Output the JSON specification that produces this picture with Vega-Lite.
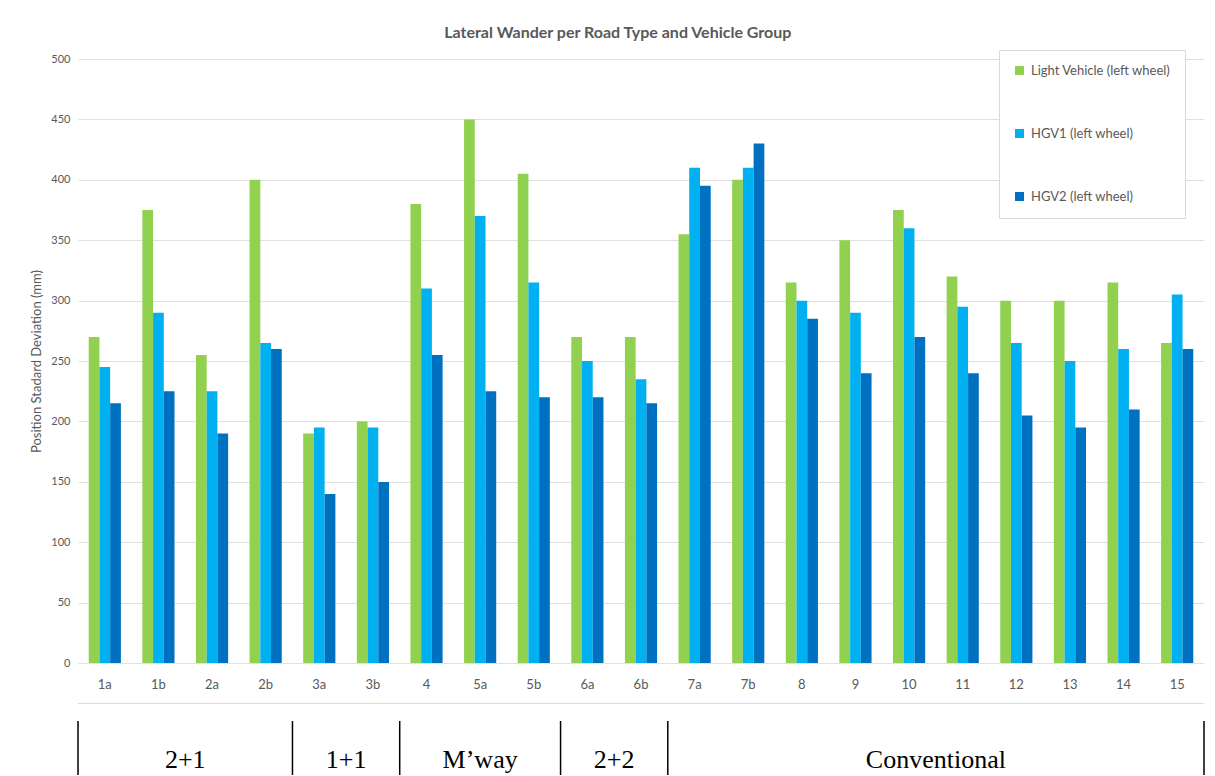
{
  "$schema": "https://vega.github.io/schema/vega-lite/v6.json",
  "width": 1215,
  "height": 776,
  "autosize": {"type": "fit", "contains": "padding"},
  "padding": {"left": 30, "right": 10, "top": 25, "bottom": 0},
  "background": "white",
  "config": {
    "view": {"stroke": null},
    "font": "Lato"
  },
  "title": {
    "text": "Lateral Wander per Road Type and Vehicle Group",
    "fontSize": 16,
    "fontWeight": "bold",
    "color": "#595959",
    "font": "Lato",
    "anchor": "middle",
    "frame": "bounds",
    "offset": 12
  },
  "datasets": {
    "bars": [
      {"cat": "1a", "series": "Light Vehicle (left wheel)", "value": 270},
      {"cat": "1a", "series": "HGV1 (left wheel)", "value": 245},
      {"cat": "1a", "series": "HGV2 (left wheel)", "value": 215},
      {"cat": "1b", "series": "Light Vehicle (left wheel)", "value": 375},
      {"cat": "1b", "series": "HGV1 (left wheel)", "value": 290},
      {"cat": "1b", "series": "HGV2 (left wheel)", "value": 225},
      {"cat": "2a", "series": "Light Vehicle (left wheel)", "value": 255},
      {"cat": "2a", "series": "HGV1 (left wheel)", "value": 225},
      {"cat": "2a", "series": "HGV2 (left wheel)", "value": 190},
      {"cat": "2b", "series": "Light Vehicle (left wheel)", "value": 400},
      {"cat": "2b", "series": "HGV1 (left wheel)", "value": 265},
      {"cat": "2b", "series": "HGV2 (left wheel)", "value": 260},
      {"cat": "3a", "series": "Light Vehicle (left wheel)", "value": 190},
      {"cat": "3a", "series": "HGV1 (left wheel)", "value": 195},
      {"cat": "3a", "series": "HGV2 (left wheel)", "value": 140},
      {"cat": "3b", "series": "Light Vehicle (left wheel)", "value": 200},
      {"cat": "3b", "series": "HGV1 (left wheel)", "value": 195},
      {"cat": "3b", "series": "HGV2 (left wheel)", "value": 150},
      {"cat": "4", "series": "Light Vehicle (left wheel)", "value": 380},
      {"cat": "4", "series": "HGV1 (left wheel)", "value": 310},
      {"cat": "4", "series": "HGV2 (left wheel)", "value": 255},
      {"cat": "5a", "series": "Light Vehicle (left wheel)", "value": 450},
      {"cat": "5a", "series": "HGV1 (left wheel)", "value": 370},
      {"cat": "5a", "series": "HGV2 (left wheel)", "value": 225},
      {"cat": "5b", "series": "Light Vehicle (left wheel)", "value": 405},
      {"cat": "5b", "series": "HGV1 (left wheel)", "value": 315},
      {"cat": "5b", "series": "HGV2 (left wheel)", "value": 220},
      {"cat": "6a", "series": "Light Vehicle (left wheel)", "value": 270},
      {"cat": "6a", "series": "HGV1 (left wheel)", "value": 250},
      {"cat": "6a", "series": "HGV2 (left wheel)", "value": 220},
      {"cat": "6b", "series": "Light Vehicle (left wheel)", "value": 270},
      {"cat": "6b", "series": "HGV1 (left wheel)", "value": 235},
      {"cat": "6b", "series": "HGV2 (left wheel)", "value": 215},
      {"cat": "7a", "series": "Light Vehicle (left wheel)", "value": 355},
      {"cat": "7a", "series": "HGV1 (left wheel)", "value": 410},
      {"cat": "7a", "series": "HGV2 (left wheel)", "value": 395},
      {"cat": "7b", "series": "Light Vehicle (left wheel)", "value": 400},
      {"cat": "7b", "series": "HGV1 (left wheel)", "value": 410},
      {"cat": "7b", "series": "HGV2 (left wheel)", "value": 430},
      {"cat": "8", "series": "Light Vehicle (left wheel)", "value": 315},
      {"cat": "8", "series": "HGV1 (left wheel)", "value": 300},
      {"cat": "8", "series": "HGV2 (left wheel)", "value": 285},
      {"cat": "9", "series": "Light Vehicle (left wheel)", "value": 350},
      {"cat": "9", "series": "HGV1 (left wheel)", "value": 290},
      {"cat": "9", "series": "HGV2 (left wheel)", "value": 240},
      {"cat": "10", "series": "Light Vehicle (left wheel)", "value": 375},
      {"cat": "10", "series": "HGV1 (left wheel)", "value": 360},
      {"cat": "10", "series": "HGV2 (left wheel)", "value": 270},
      {"cat": "11", "series": "Light Vehicle (left wheel)", "value": 320},
      {"cat": "11", "series": "HGV1 (left wheel)", "value": 295},
      {"cat": "11", "series": "HGV2 (left wheel)", "value": 240},
      {"cat": "12", "series": "Light Vehicle (left wheel)", "value": 300},
      {"cat": "12", "series": "HGV1 (left wheel)", "value": 265},
      {"cat": "12", "series": "HGV2 (left wheel)", "value": 205},
      {"cat": "13", "series": "Light Vehicle (left wheel)", "value": 300},
      {"cat": "13", "series": "HGV1 (left wheel)", "value": 250},
      {"cat": "13", "series": "HGV2 (left wheel)", "value": 195},
      {"cat": "14", "series": "Light Vehicle (left wheel)", "value": 315},
      {"cat": "14", "series": "HGV1 (left wheel)", "value": 260},
      {"cat": "14", "series": "HGV2 (left wheel)", "value": 210},
      {"cat": "15", "series": "Light Vehicle (left wheel)", "value": 265},
      {"cat": "15", "series": "HGV1 (left wheel)", "value": 305},
      {"cat": "15", "series": "HGV2 (left wheel)", "value": 260}
    ],
    "cats": [
      {"cat": "1a"}, {"cat": "1b"}, {"cat": "2a"}, {"cat": "2b"}, {"cat": "3a"}, {"cat": "3b"}, {"cat": "4"},
      {"cat": "5a"}, {"cat": "5b"}, {"cat": "6a"}, {"cat": "6b"}, {"cat": "7a"}, {"cat": "7b"}, {"cat": "8"},
      {"cat": "9"}, {"cat": "10"}, {"cat": "11"}, {"cat": "12"}, {"cat": "13"}, {"cat": "14"}, {"cat": "15"}
    ],
    "groupsBoundary": [
      {"cat": "1b", "label": "2+1"},
      {"cat": "3a", "label": "1+1"},
      {"cat": "6a", "label": "2+2"},
      {"cat": "10", "label": "Conventional"}
    ],
    "groupsCenter": [
      {"cat": "5a", "label": "M’way"}
    ],
    "dividersRight": [
      {"cat": "2b"}, {"cat": "3b"}, {"cat": "5b"}, {"cat": "6b"}, {"cat": "15"}
    ],
    "dividersLeft": [
      {"cat": "1a"}
    ]
  },
  "layer": [
    {
      "data": {"name": "bars"},
      "mark": {"type": "bar"},
      "encoding": {
        "x": {
          "field": "cat", "type": "nominal",
          "scale": {"domain": ["1a","1b","2a","2b","3a","3b","4","5a","5b","6a","6b","7a","7b","8","9","10","11","12","13","14","15"], "paddingInner": 0.4, "paddingOuter": 0.2},
          "axis": null
        },
        "xOffset": {
          "field": "series", "type": "nominal",
          "scale": {"domain": ["Light Vehicle (left wheel)", "HGV1 (left wheel)", "HGV2 (left wheel)"], "paddingInner": 0, "paddingOuter": 0}
        },
        "y": {
          "field": "value", "type": "quantitative",
          "scale": {"domain": [-92.6, 500], "nice": false, "zero": false},
          "axis": {
            "values": [0, 50, 100, 150, 200, 250, 300, 350, 400, 450, 500],
            "grid": true,
            "gridColor": "#e0e0e0",
            "domain": false,
            "ticks": false,
            "labelPadding": 8,
            "labelFont": "Lato",
            "labelFontSize": 11,
            "labelColor": "#595959",
            "title": "Position Stadard Deviation (mm)",
            "titleFont": "Lato",
            "titleFontSize": 13,
            "titleFontWeight": "normal",
            "titleColor": "#595959",
            "titlePadding": 7,
            "titleY": 302
          }
        },
        "color": {
          "field": "series", "type": "nominal",
          "scale": {"domain": ["Light Vehicle (left wheel)", "HGV1 (left wheel)", "HGV2 (left wheel)"], "range": ["#92D050", "#00B0F0", "#0070C0"]},
          "legend": {
            "title": null,
            "orient": "none",
            "legendX": 921,
            "legendY": -9,
            "symbolType": "square",
            "symbolSize": 81,
            "symbolStrokeWidth": 0,
            "labelFont": "Lato",
            "labelFontSize": 13,
            "labelColor": "#595959",
            "labelOffset": 5,
            "labelLimit": 300,
            "rowPadding": 49,
            "padding": 14,
            "strokeColor": "#d9d9d9",
            "fillColor": "white"
          }
        }
      }
    },
    {
      "data": {"name": "cats"},
      "mark": {"type": "text", "font": "Lato", "fontSize": 13, "color": "#595959", "baseline": "middle", "align": "center"},
      "encoding": {
        "x": {"field": "cat", "type": "nominal", "bandPosition": 0.5},
        "y": {"datum": -18, "type": "quantitative"},
        "text": {"field": "cat"}
      }
    },
    {
      "data": {"name": "cats"},
      "transform": [{"filter": "datum.cat === '1a'"}],
      "mark": {"type": "rule", "color": "#d9d9d9", "strokeWidth": 1},
      "encoding": {
        "y": {"datum": -33.5, "type": "quantitative"}
      }
    },
    {
      "data": {"name": "dividersRight"},
      "mark": {"type": "rule", "color": "black", "strokeWidth": 1.5},
      "encoding": {
        "x": {"field": "cat", "type": "nominal", "bandPosition": 1.333},
        "y": {"datum": -47.9, "type": "quantitative"},
        "y2": {"datum": -92.6}
      }
    },
    {
      "data": {"name": "dividersLeft"},
      "mark": {"type": "rule", "color": "black", "strokeWidth": 1.5},
      "encoding": {
        "x": {"field": "cat", "type": "nominal", "bandPosition": -0.333},
        "y": {"datum": -47.9, "type": "quantitative"},
        "y2": {"datum": -92.6}
      }
    },
    {
      "data": {"name": "groupsBoundary"},
      "mark": {"type": "text", "font": "Liberation Serif", "fontSize": 26, "color": "black", "baseline": "alphabetic", "align": "center"},
      "encoding": {
        "x": {"field": "cat", "type": "nominal", "bandPosition": 1.333},
        "y": {"datum": -87.2, "type": "quantitative"},
        "text": {"field": "label"}
      }
    },
    {
      "data": {"name": "groupsCenter"},
      "mark": {"type": "text", "font": "Liberation Serif", "fontSize": 26, "color": "black", "baseline": "alphabetic", "align": "center"},
      "encoding": {
        "x": {"field": "cat", "type": "nominal", "bandPosition": 0.5},
        "y": {"datum": -87.2, "type": "quantitative"},
        "text": {"field": "label"}
      }
    }
  ]
}
